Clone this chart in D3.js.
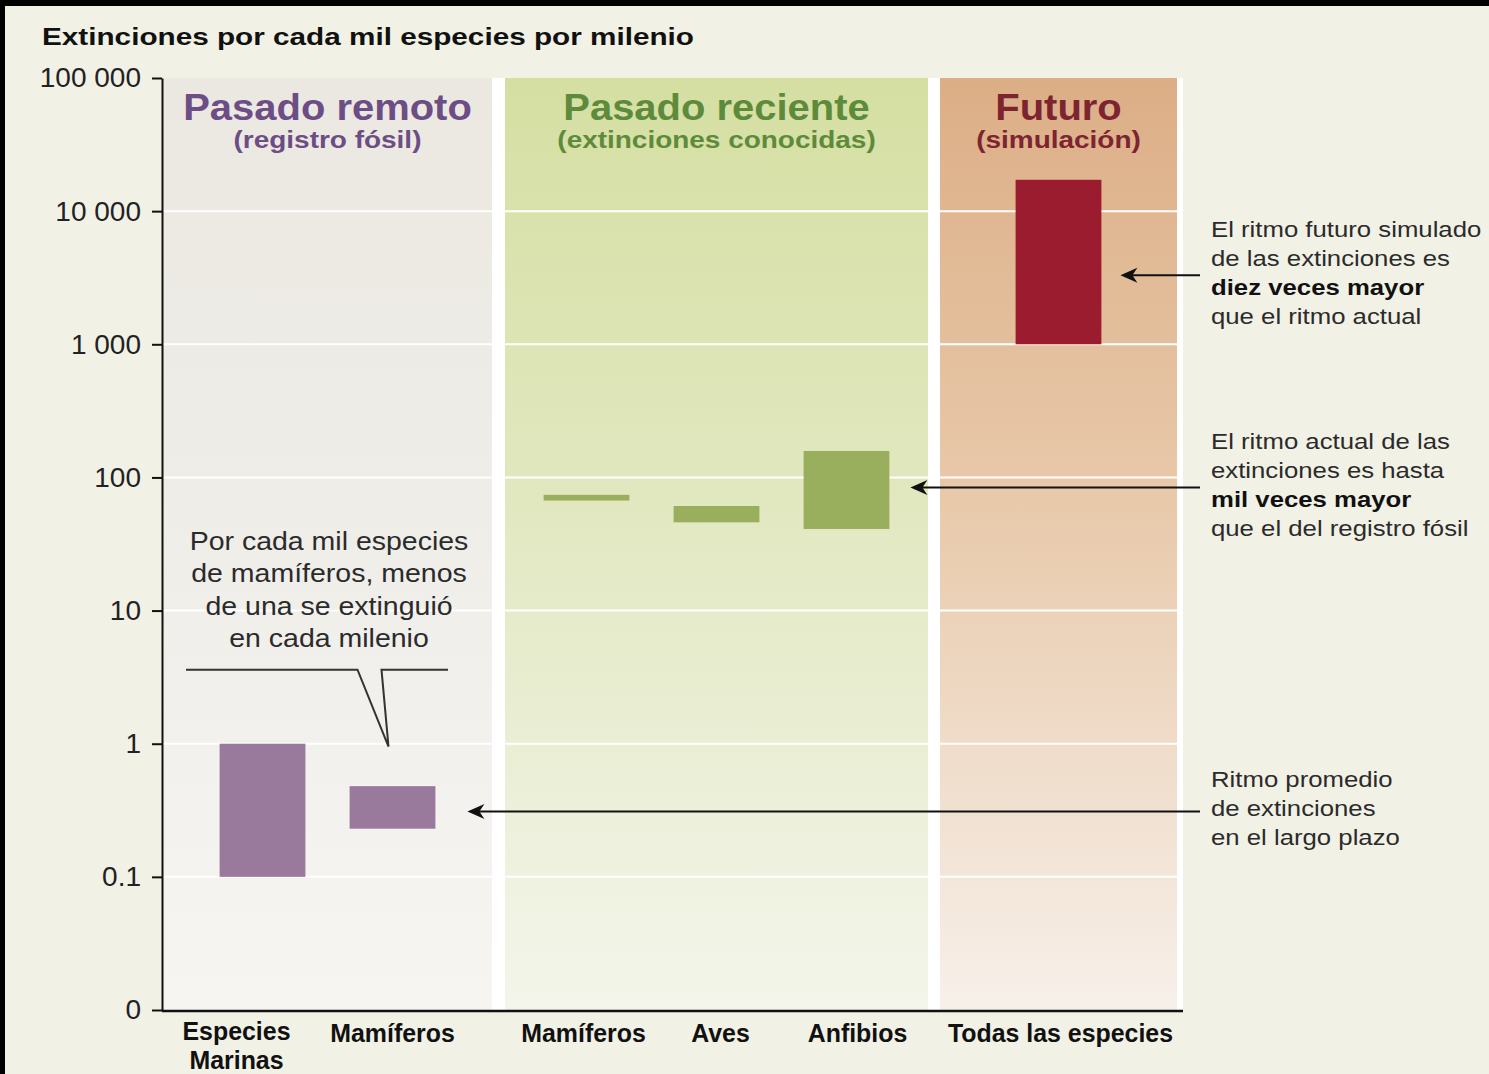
<!DOCTYPE html>
<html>
<head>
<meta charset="utf-8">
<script src="https://cdn.jsdelivr.net/npm/d3@7"></script>
<style>
  body { margin: 0; background: #f2f1e6; }
  svg { display: block; }
  text { font-family: "Liberation Sans", Arial, sans-serif; }
</style>
</head>
<body>
<script>
// ---- data ----
const periods = ["Pasado remoto", "Pasado reciente", "Futuro"];
const periodNotes = ["(registro fósil)", "(extinciones conocidas)", "(simulación)"];
const periodColors = ["#6d4d85", "#5e8b3b", "#7d2431"];
const barColors = ["#997a9c", "#9aaf5d", "#9b1c2e"];

const xLabels = [["Especies", "Marinas"], ["Mamíferos"], ["Mamíferos"], ["Aves"], ["Anfibios"], ["Todas las especies"]];
const categoryPeriod = [0, 0, 1, 1, 1, 2];
const rateLow  = [0.1, 0.23, 67, 46, 41, 1000];
const rateHigh = [1, 0.48, 74, 61, 158, 17200];

const tickValues = [0.01, 0.1, 1, 10, 100, 1000, 10000, 100000];
const tickLabels = ["0", "0.1", "1", "10", "100", "1 000", "10 000", "100 000"];

const noteLines = [
  ["El ritmo futuro simulado", "de las extinciones es", "diez veces mayor", "que el ritmo actual"],
  ["El ritmo actual de las", "extinciones es hasta", "mil veces mayor", "que el del registro fósil"],
  ["Ritmo promedio", "de extinciones", "en el largo plazo"]
];
const noteBoldLine = [2, 2, -1];
const noteValue = [3300, 84, 0.31];   // where each arrow points
const noteBar = [5, 4, 1];

const calloutLines = ["Por cada mil especies", "de mamíferos, menos", "de una se extinguió", "en cada milenio"];

// ---- layout ----
const W = 1489, H = 1074;
const plot = { x0: 163, x1: 1183, y0: 78, y1: 1010 };
const panelEdges = [[163, 492], [505, 928], [940, 1177]];
const panelGrad = [
  ["#ebe8e1", "#efede8", "#f6f5f2"],
  ["#d5dfa2", "#e1e8c0", "#f4f5eb"],
  ["#dcae86", "#e8c9aa", "#f7f0ea"]
];
const labelNudge = [-26, 0, -3, 4, 11, 2];
const noteGap = [19, 21, 32];

const svg = d3.select("body").append("svg").attr("width", W).attr("height", H);

svg.append("rect").attr("width", W).attr("height", H).attr("fill", "#f2f1e6");
svg.append("rect").attr("width", W).attr("height", 6).attr("fill", "#000");
svg.append("rect").attr("width", 5).attr("height", H).attr("fill", "#000");

const y = d3.scaleLog().domain([0.01, 100000]).range([plot.y1, plot.y0]);

// one band scale per period panel, same bar width everywhere
const barStep = 130, padIn = 0.34;
const bands = panelEdges.map((e, p) => {
  const idx = d3.range(xLabels.length).filter(i => categoryPeriod[i] === p);
  const po = ((e[1] - e[0]) / barStep - idx.length + padIn) / 2;
  return d3.scaleBand().domain(idx).range(e).paddingInner(padIn).paddingOuter(po);
});
const xOf = i => bands[categoryPeriod[i]](i);
const bw = i => bands[categoryPeriod[i]].bandwidth();

function stretchText(sel, x, yy, str, size, sx, anchor, weight, fill) {
  return sel.append("text")
    .attr("transform", `translate(${x},${yy}) scale(${sx},1)`)
    .attr("text-anchor", anchor)
    .attr("font-size", size)
    .attr("font-weight", weight)
    .attr("fill", fill)
    .text(str);
}

// gradients
const defs = svg.append("defs");
panelGrad.forEach((c, p) => {
  const g = defs.append("linearGradient").attr("id", "pg" + p)
    .attr("x1", 0).attr("y1", 0).attr("x2", 0).attr("y2", 1);
  g.append("stop").attr("offset", "0%").attr("stop-color", c[0]);
  g.append("stop").attr("offset", "45%").attr("stop-color", c[1]);
  g.append("stop").attr("offset", "100%").attr("stop-color", c[2]);
});

// plot area + panels
svg.append("rect").attr("x", plot.x0).attr("y", plot.y0)
  .attr("width", plot.x1 - plot.x0).attr("height", plot.y1 - plot.y0).attr("fill", "#fff");
svg.selectAll(".panel").data(panelEdges).enter().append("rect")
  .attr("x", d => d[0]).attr("y", plot.y0)
  .attr("width", d => d[1] - d[0]).attr("height", plot.y1 - plot.y0)
  .attr("fill", (d, i) => `url(#pg${i})`);

// white gridlines
svg.selectAll(".grid").data(tickValues.slice(1, -1)).enter().append("line")
  .attr("x1", plot.x0).attr("x2", panelEdges[2][1])
  .attr("y1", d => y(d)).attr("y2", d => y(d))
  .attr("stroke", "#fff").attr("stroke-width", 2);

// panel titles
periods.forEach((t, p) => {
  const cx = (panelEdges[p][0] + panelEdges[p][1]) / 2;
  stretchText(svg, cx, 120, t, 37, 1.08, "middle", "bold", periodColors[p]);
  stretchText(svg, cx, 147.5, periodNotes[p], 23.5, 1.19, "middle", "bold", periodColors[p]);
});

// bars
svg.selectAll(".bar").data(rateLow).enter().append("rect")
  .attr("x", (d, i) => xOf(i))
  .attr("width", (d, i) => bw(i))
  .attr("y", (d, i) => y(rateHigh[i]))
  .attr("height", (d, i) => y(d) - y(rateHigh[i]))
  .attr("fill", (d, i) => barColors[categoryPeriod[i]]);

// y axis
const yAxis = svg.append("g").attr("transform", `translate(${plot.x0 - 1},0)`)
  .call(d3.axisLeft(y).tickValues(tickValues).tickFormat((d, i) => tickLabels[i])
    .tickSize(10).tickSizeOuter(0).tickPadding(11));
yAxis.select(".domain").attr("stroke", "#111").attr("stroke-width", 2);
yAxis.selectAll(".tick line").attr("stroke", "#111").attr("stroke-width", 2);
yAxis.selectAll(".tick text").attr("font-size", 28).attr("fill", "#222")
  .attr("font-family", "'Liberation Sans', Arial, sans-serif");

// x axis line
svg.append("line").attr("x1", plot.x0 - 1).attr("x2", plot.x1)
  .attr("y1", plot.y1 + 1).attr("y2", plot.y1 + 1)
  .attr("stroke", "#111").attr("stroke-width", 2.5);

// category labels
xLabels.forEach((lines, i) => {
  const cx = xOf(i) + bw(i) / 2 + labelNudge[i];
  const y0 = 1042 - (lines.length - 1) * 2.5;
  lines.forEach((l, k) => stretchText(svg, cx, y0 + k * 29, l, 26.5, 0.94, "middle", "bold", "#111"));
});

// right-hand notes with arrows
noteLines.forEach((lines, n) => {
  const ay = y(noteValue[n]);
  const bi = noteBar[n];
  const tx = xOf(bi) + bw(bi) + noteGap[n];
  svg.append("line")
    .attr("x1", 1200).attr("x2", tx + 8)
    .attr("y1", ay).attr("y2", ay)
    .attr("stroke", "#111").attr("stroke-width", 2);
  svg.append("path")
    .attr("d", `M${tx},${ay} L${tx + 17},${ay - 7.5} L${tx + 12},${ay} L${tx + 17},${ay + 7.5} Z`)
    .attr("fill", "#111");
  const y0 = ay + 5 - (lines.length - 1) / 2 * 29;
  lines.forEach((l, k) => {
    const b = k === noteBoldLine[n];
    stretchText(svg, 1211, y0 + k * 29, l, 22, 1.17, "start", b ? "bold" : "normal", b ? "#111" : "#2b2b2b");
  });
});

// callout over the fossil-record mammals
calloutLines.forEach((l, k) => stretchText(svg, 329, 550 + k * 32.3, l, 25, 1.14, "middle", "normal", "#2b2b2b"));
const tipX = xOf(1) + bw(1) / 2 - 4, tipY = y(1) + 3;
svg.append("path")
  .attr("d", `M186,${tipY - 77} H${tipX - 31} L${tipX},${tipY} L${tipX - 7},${tipY - 77} H448`)
  .attr("fill", "none").attr("stroke", "#333").attr("stroke-width", 2);

// title
stretchText(svg, 42, 45, "Extinciones por cada mil especies por milenio", 24.5, 1.213, "start", "bold", "#111");
</script>
</body>
</html>
